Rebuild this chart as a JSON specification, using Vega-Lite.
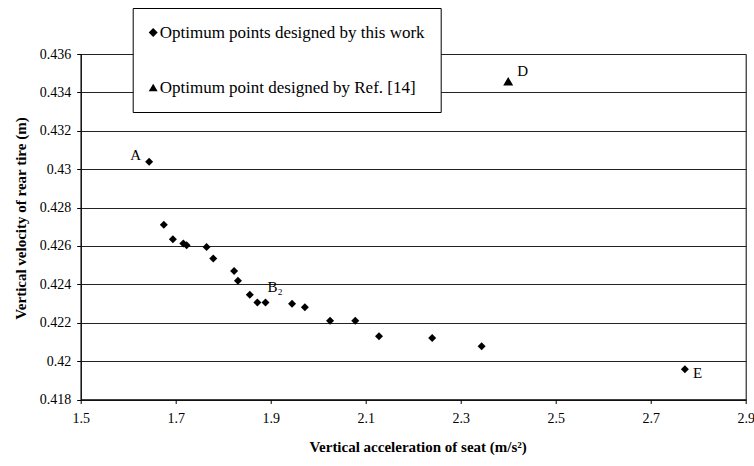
{
  "$schema": "https://vega.github.io/schema/vega-lite/v6.json",
  "width": 665,
  "height": 345.5,
  "autosize": {"type": "none"},
  "padding": {"left": 80.7, "top": 54, "right": 8.3, "bottom": 66.5},
  "background": "white",
  "config": {
    "view": {"stroke": "black", "strokeWidth": 1},
    "font": "Liberation Serif"
  },
  "datasets": {
    "points": [
      {"acc": 1.644, "vel": 0.43038, "series": "work"},
      {"acc": 1.675, "vel": 0.4271, "series": "work"},
      {"acc": 1.694, "vel": 0.42635, "series": "work"},
      {"acc": 1.716, "vel": 0.42613, "series": "work"},
      {"acc": 1.723, "vel": 0.42604, "series": "work"},
      {"acc": 1.765, "vel": 0.42595, "series": "work"},
      {"acc": 1.779, "vel": 0.42534, "series": "work"},
      {"acc": 1.823, "vel": 0.4247, "series": "work"},
      {"acc": 1.831, "vel": 0.42419, "series": "work"},
      {"acc": 1.856, "vel": 0.42346, "series": "work"},
      {"acc": 1.872, "vel": 0.42306, "series": "work"},
      {"acc": 1.889, "vel": 0.42306, "series": "work"},
      {"acc": 1.945, "vel": 0.42299, "series": "work"},
      {"acc": 1.972, "vel": 0.42281, "series": "work"},
      {"acc": 2.025, "vel": 0.4221, "series": "work"},
      {"acc": 2.078, "vel": 0.4221, "series": "work"},
      {"acc": 2.128, "vel": 0.4213, "series": "work"},
      {"acc": 2.24, "vel": 0.4212, "series": "work"},
      {"acc": 2.344, "vel": 0.42077, "series": "work"},
      {"acc": 2.772, "vel": 0.41957, "series": "work"},
      {"acc": 2.4, "vel": 0.43458, "series": "ref"}
    ]
  },
  "encoding": {
    "x": {
      "field": "acc", "type": "quantitative",
      "scale": {"domain": [1.5, 2.9], "nice": false, "zero": false},
      "axis": {
        "title": "Vertical acceleration of seat (m/s²)",
        "values": [1.5, 1.7, 1.9, 2.1, 2.3, 2.5, 2.7, 2.9],
        "format": ".1f",
        "grid": false,
        "domainColor": "black", "domainWidth": 1,
        "tickColor": "black", "tickSize": 4, "tickWidth": 1,
        "labelFont": "Liberation Serif", "labelFontSize": 14, "labelColor": "black", "labelPadding": 8,
        "labelFlush": false, "labelOverlap": false,
        "titleFont": "Liberation Serif", "titleFontSize": 15, "titleFontWeight": "bold", "titleColor": "black",
        "titleX": 337, "titleY": 47, "titleAlign": "center", "titleBaseline": "middle"
      }
    },
    "y": {
      "field": "vel", "type": "quantitative",
      "scale": {"domain": [0.418, 0.436], "nice": false, "zero": false},
      "axis": {
        "title": "Vertical velocity of rear tire (m)",
        "values": [0.418, 0.42, 0.422, 0.424, 0.426, 0.428, 0.43, 0.432, 0.434, 0.436],
        "format": "~g",
        "grid": true, "gridColor": "#222222", "gridWidth": 1,
        "domainColor": "black", "domainWidth": 1,
        "tickColor": "black", "tickSize": 4, "tickWidth": 1,
        "labelFont": "Liberation Serif", "labelFontSize": 14, "labelColor": "black", "labelPadding": 6,
        "labelFlush": false, "labelOverlap": false,
        "titleFont": "Liberation Serif", "titleFontSize": 15, "titleFontWeight": "bold", "titleColor": "black",
        "titleX": -60, "titleY": 164, "titleAlign": "center", "titleBaseline": "middle"
      }
    }
  },
  "layer": [
    {
      "data": {"name": "points"},
      "transform": [{"filter": "datum.series == 'work'"}],
      "mark": {"type": "point", "filled": true, "opacity": 1, "color": "black", "strokeWidth": 0, "size": 64},
      "encoding": {
        "shape": {
          "field": "series", "type": "nominal",
          "scale": {"domain": ["work", "ref"], "range": ["diamond", "triangle-up"]},
          "legend": {
            "title": null,
            "orient": "none",
            "legendX": 52,
            "legendY": -46,
            "strokeColor": "black",
            "fillColor": "white",
            "padding": 16,
            "rowPadding": 37,
            "labelFont": "Liberation Serif",
            "labelFontSize": 17,
            "labelColor": "black",
            "labelOffset": -2,
            "labelLimit": 400,
            "labelExpr": "datum.label == 'ref' ? 'Optimum point designed by Ref. [14]' : 'Optimum points designed by this work'",
            "symbolSize": 80,
            "symbolOffset": -4,
            "symbolFillColor": "black",
            "symbolStrokeColor": "black"
          }
        }
      }
    },
    {
      "data": {"name": "points"},
      "transform": [{"filter": "datum.series == 'ref'"}],
      "mark": {"type": "point", "filled": true, "opacity": 1, "color": "black", "strokeWidth": 0, "size": 100},
      "encoding": {
        "shape": {"field": "series", "type": "nominal"}
      }
    },
    {
      "data": {"values": [{"acc": 1.644, "vel": 0.43038, "label": "A"}]},
      "mark": {"type": "text", "align": "right", "baseline": "middle", "dx": -8, "dy": -7, "font": "Liberation Serif", "fontSize": 15, "color": "black"},
      "encoding": {"text": {"field": "label"}}
    },
    {
      "data": {"values": [{"acc": 1.889, "vel": 0.42306, "label": "B₂"}]},
      "mark": {"type": "text", "align": "left", "baseline": "middle", "dx": 2, "dy": -15, "font": "Liberation Serif", "fontSize": 15, "color": "black"},
      "encoding": {"text": {"field": "label"}}
    },
    {
      "data": {"values": [{"acc": 2.4, "vel": 0.43458, "label": "D"}]},
      "mark": {"type": "text", "align": "left", "baseline": "middle", "dx": 9, "dy": -10, "font": "Liberation Serif", "fontSize": 15, "color": "black"},
      "encoding": {"text": {"field": "label"}}
    },
    {
      "data": {"values": [{"acc": 2.772, "vel": 0.41957, "label": "E"}]},
      "mark": {"type": "text", "align": "left", "baseline": "middle", "dx": 8, "dy": 4, "font": "Liberation Serif", "fontSize": 15, "color": "black"},
      "encoding": {"text": {"field": "label"}}
    }
  ]
}
